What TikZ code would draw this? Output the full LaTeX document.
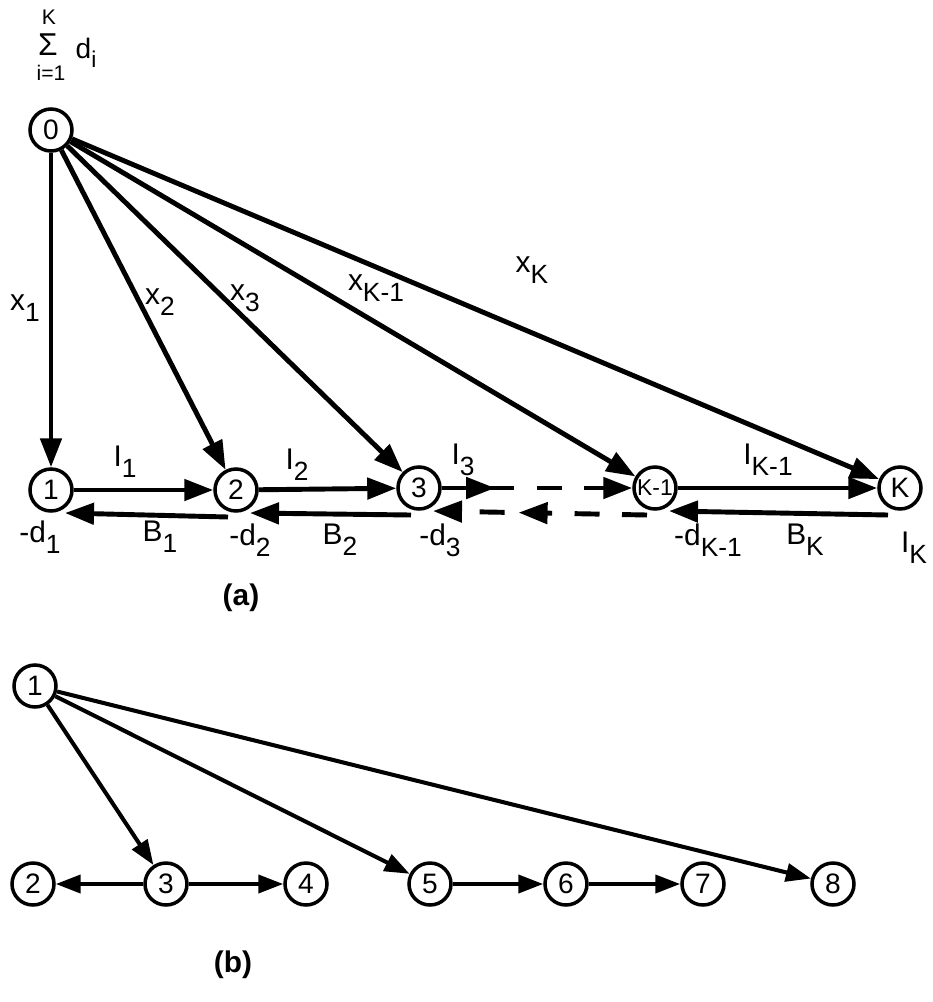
\documentclass[tikz,border=0pt]{standalone}
\usepackage{fontspec}
\setmainfont{Liberation Sans}
\usetikzlibrary{arrows.meta,decorations.markings}
\tikzset{
  nd/.style={circle, draw, line width=2pt, minimum size=0.84cm, inner sep=0pt, font=\fontsize{16}{16}\selectfont},
  arr/.style={line width=2.8pt, -{Triangle[length=0.58cm,width=0.42cm]}},
  arrb/.style={line width=2.3pt, -{Triangle[length=0.5cm,width=0.36cm]}},
  lbl/.style={font=\fontsize{17}{17}\selectfont},
  sm/.style={inner sep=0pt, font=\fontsize{12}{12}\selectfont},
  midarr/.style={postaction={decorate}, decoration={markings, mark=at position #1 with {\arrow{Triangle[length=0.58cm,width=0.42cm]}}}},
  dsh/.style={dash pattern=on 0.5cm off 0.45cm}
}
\newcommand{\sbs}[2]{#1\raisebox{-0.7ex}{\fontsize{15}{15}\selectfont #2}}
\begin{document}
\begin{tikzpicture}[x=0.02cm, y=-0.02cm]
  \useasboundingbox (0,0) rectangle (933,1002);

  % (a)
  \node[sm] (sk) at (49,17) {K};
  \node[inner sep=0pt, font=\fontsize{18}{18}\selectfont] (ssig) at (48,45) {Σ};
  \node[sm] (si) at (51,73) {i=1};
  \node[inner sep=0pt, font=\fontsize{16}{16}\selectfont] (sd) at (86,53) {d\raisebox{-0.6ex}{\fontsize{13}{13}\selectfont i}};

  \node[nd] (n0) at (51,130) {0};
  \node[nd] (a1) at (51,490) {1};
  \node[nd] (a2) at (236,490) {2};
  \node[nd] (a3) at (419,488) {3};
  \node[nd, font=\fontsize{13}{13}\selectfont] (ak1) at (655,488) {K-1};
  \node[nd] (ak) at (900,488) {K};

  \draw[arr] (n0) -- (a1);
  \draw[arr] (n0) -- (a2);
  \draw[arr] (n0) -- (a3);
  \draw[arr] (n0) -- (ak1);
  \draw[arr] (n0) -- (ak);

  \draw[arr] (a1) -- (a2);
  \draw[arr] (a2) -- (a3);
  \draw[arr, dsh, midarr=0.28] (a3) -- (ak1);
  \draw[arr] (ak1) -- (ak);

  \draw[arr] ([shift={(-8,27)}]a2.center) -- ([shift={(14,23)}]a1.center);
  \draw[arr] ([shift={(-8,27)}]a3.center) -- ([shift={(14,23)}]a2.center);
  \draw[arr, dsh, midarr=0.6] ([shift={(-8,27)}]ak1.center) -- ([shift={(14,23)}]a3.center);
  \draw[arr] ([shift={(-12,27)}]ak.center) -- ([shift={(14,23)}]ak1.center);

  \node[lbl] (lx1) at (25,308) {\sbs{x}{1}};
  \node[lbl] (lx2) at (160,302) {\sbs{x}{2}};
  \node[lbl] (lx3) at (245,298) {\sbs{x}{3}};
  \node[lbl] (lxk1) at (376,288) {\sbs{x}{K-1}};
  \node[lbl] (lxk) at (532,270) {\sbs{x}{K}};

  \node[lbl] (li1) at (125,462) {\sbs{I}{1}};
  \node[lbl] (li2) at (297,465) {\sbs{I}{2}};
  \node[lbl] (li3) at (463,460) {\sbs{I}{3}};
  \node[lbl] (lik1) at (768,460) {\sbs{I}{K-1}};

  \node[lbl] (ld1) at (40,537) {\sbs{-d}{1}};
  \node[lbl] (lb1) at (160,537) {\sbs{B}{1}};
  \node[lbl] (ld2) at (250,540) {\sbs{-d}{2}};
  \node[lbl] (lb2) at (340,540) {\sbs{B}{2}};
  \node[lbl] (ld3) at (440,540) {\sbs{-d}{3}};
  \node[lbl] (ldk1) at (708,540) {\sbs{-d}{K-1}};
  \node[lbl] (lbk) at (805,540) {\sbs{B}{K}};
  \node[lbl] (lik) at (914,548) {\sbs{I}{K}};

  \node[font=\fontsize{17}{17}\selectfont\bfseries] (capa) at (241,598) {(a)};

  % (b)
  \node[nd] (b1) at (35,686) {1};
  \node[nd] (b2) at (33,884) {2};
  \node[nd] (b3) at (166,884) {3};
  \node[nd] (b4) at (306,884) {4};
  \node[nd] (b5) at (430,884) {5};
  \node[nd] (b6) at (566,884) {6};
  \node[nd] (b7) at (703,884) {7};
  \node[nd] (b8) at (833,884) {8};

  \draw[arrb] (b1) -- (b3);
  \draw[arrb] (b1) -- (b5);
  \draw[arrb] (b1) -- (b8);
  \draw[arrb] (b3) -- (b2);
  \draw[arrb] (b3) -- (b4);
  \draw[arrb] (b5) -- (b6);
  \draw[arrb] (b6) -- (b7);

  \node[font=\fontsize{17}{17}\selectfont\bfseries] (capb) at (233,965) {(b)};
\end{tikzpicture}
\end{document}
